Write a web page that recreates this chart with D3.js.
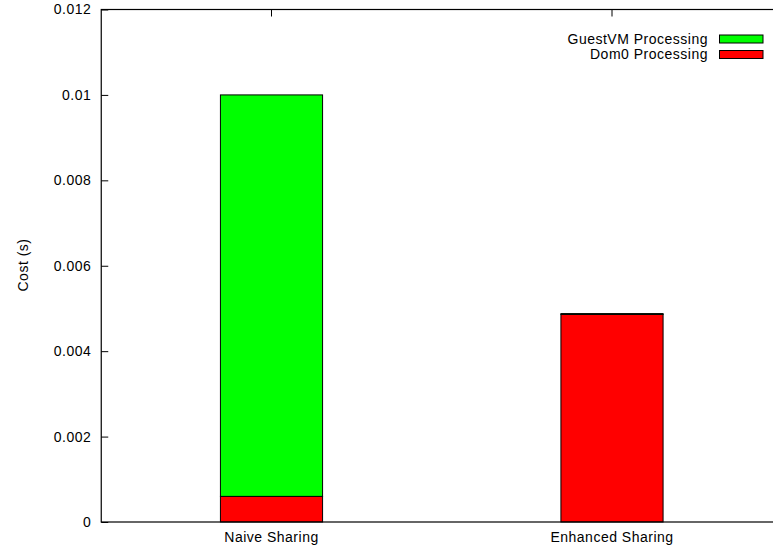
<!DOCTYPE html>
<html><head><meta charset="utf-8">
<script src="https://cdn.jsdelivr.net/npm/d3@7"></script>
<style>body{margin:0;background:#fff}svg{display:block;font-family:"Liberation Sans",Arial,sans-serif}</style>
</head><body><svg id="c" width="773" height="550"></svg>
<script>
const categories = ["Naive Sharing", "Enhanced Sharing"];
const seriesNames = ["Dom0 Processing", "GuestVM Processing"];
const dom0 = [0.0006, 0.00486];
const guestVM = [0.0094, 0.00002];
const yTicks = [0, 0.002, 0.004, 0.006, 0.008, 0.01, 0.012];
const colors = {"Dom0 Processing": "#ff0000", "GuestVM Processing": "#00ff00"};

const svg = d3.select("#c");
const L = 101.25, R = 782.25, T = 9.5, B = 522;
const FS = 14, LS = "0.5px";
const x = d3.scaleBand().domain(categories).range([L, R]).paddingInner(0.7).paddingOuter(0.35);
const y = d3.scaleLinear().domain([0, 0.012]).range([B, T]);

const rows = categories.map((c, i) => ({cat: c, "Dom0 Processing": dom0[i], "GuestVM Processing": guestVM[i]}));
const stack = d3.stack().keys(seriesNames)(rows);

stack.forEach(s => {
  svg.append("g").selectAll("rect").data(s).join("rect")
    .attr("x", d => x(d.data.cat))
    .attr("width", x.bandwidth())
    .attr("y", d => y(d[1]))
    .attr("height", d => y(d[0]) - y(d[1]))
    .attr("fill", colors[s.key])
    .attr("stroke", "#000").attr("stroke-width", 1);
});

// axes
const yAxis = d3.axisLeft(y).tickValues(yTicks).tickFormat(d3.format("~g")).tickSize(-7).tickPadding(10);
const gy = svg.append("g").attr("transform", `translate(${L},0)`).call(yAxis);
gy.select(".domain").remove();
gy.selectAll("line").attr("stroke", "#000");
gy.selectAll("text").attr("font-size", FS).attr("letter-spacing", LS).attr("fill", "#000");

const xAxis = d3.axisBottom(x).tickSize(0).tickPadding(10);
const gx = svg.append("g").attr("transform", `translate(0,${B})`).call(xAxis);
gx.select(".domain").remove();
gx.selectAll("text").attr("font-size", FS).attr("letter-spacing", LS).attr("fill", "#000");

// top mirror ticks
svg.append("g").selectAll("line").data(categories).join("line")
  .attr("x1", d => x(d) + x.bandwidth()/2).attr("x2", d => x(d) + x.bandwidth()/2)
  .attr("y1", T).attr("y2", T + 7).attr("stroke", "#000");

// frame
svg.append("rect").attr("x", L).attr("y", T).attr("width", R - L).attr("height", B - T)
  .attr("fill", "none").attr("stroke", "#000").attr("stroke-width", 1.2);

// y label
svg.append("text").attr("transform", "translate(23,265) rotate(-90)")
  .attr("text-anchor", "middle").attr("dy", "0.35em").attr("font-size", FS).attr("letter-spacing", LS).text("Cost (s)");

// legend
const leg = ["GuestVM Processing", "Dom0 Processing"];
const lg = svg.append("g").selectAll("g").data(leg).join("g")
  .attr("transform", (d, i) => `translate(0,${39 + i * 15.5})`);
lg.append("text").attr("x", 708).attr("y", 0).attr("dy", "0.35em")
  .attr("text-anchor", "end").attr("font-size", FS).attr("letter-spacing", LS).text(d => d);
lg.append("rect").attr("x", 719.5).attr("y", -4).attr("width", 43.5).attr("height", 8)
  .attr("fill", d => colors[d]).attr("stroke", "#000");
</script></body></html>
